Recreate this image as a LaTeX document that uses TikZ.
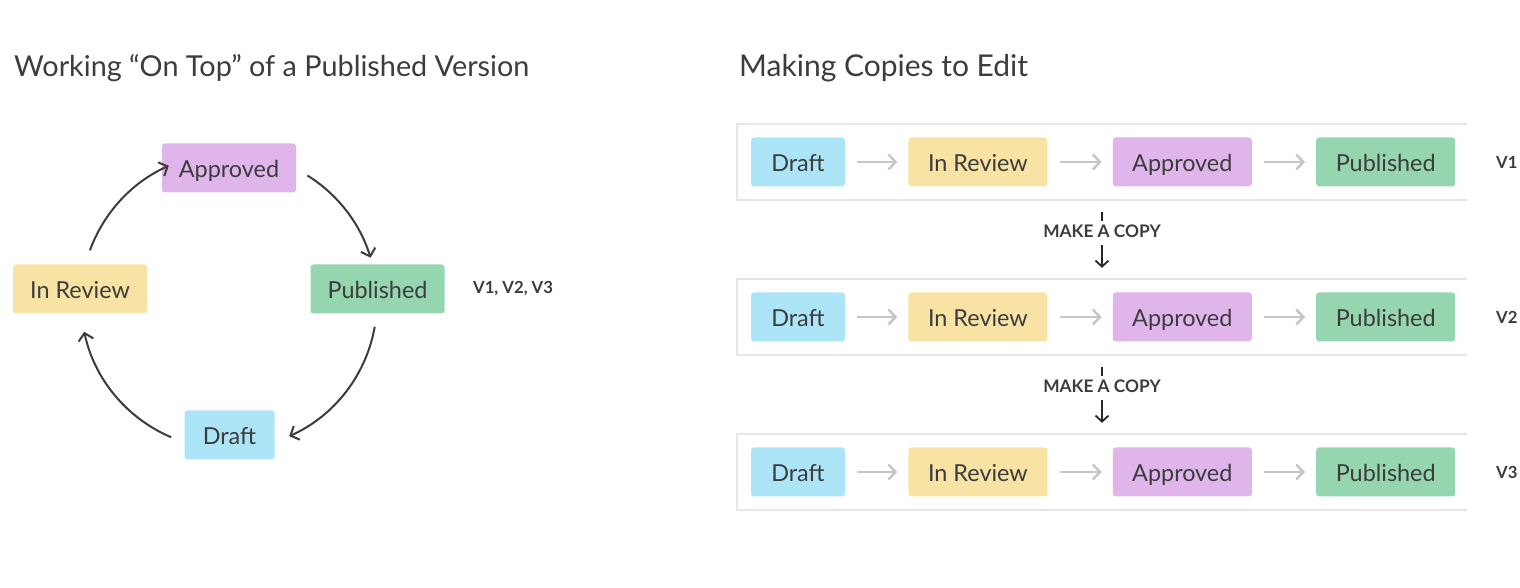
\documentclass[tikz,border=0pt]{standalone}
\usepackage{fontspec}
\setmainfont{Lato}
\usetikzlibrary{positioning,arrows.meta}

\definecolor{txt}{HTML}{3C3C3C}
\definecolor{cDra}{HTML}{ACE5F8}
\definecolor{cRev}{HTML}{F8E3A5}
\definecolor{cApp}{HTML}{DFB5EB}
\definecolor{cPub}{HTML}{95D6B0}
\definecolor{frmgray}{HTML}{E6E6E6}
\definecolor{flwgray}{HTML}{C6C6C6}

\begin{document}
\begin{tikzpicture}[
  x=1pt, y=1pt,
  ttl/.style={font=\fontsize{#1}{33}\selectfont, text=txt, inner sep=0pt, anchor=base west},
  ttl/.default=28.8,
  st/.style={rounded corners=3pt, minimum height=49pt, inner sep=0pt, text=txt,
    text height=18.5pt, text depth=0pt, font=\fontsize{23.4}{27}\selectfont},
  ver/.style={font=\fontsize{16.7}{19}\bfseries\selectfont, text=txt, anchor=west, inner sep=0pt},
  cyc/.style={-{Straight Barb[length=7pt, width=15pt]}, line width=2pt, txt},
  flw/.style={-{Straight Barb[length=7pt, width=15pt]}, line width=2.5pt, flwgray,
    shorten <=12pt, shorten >=11pt},
  frm/.style={minimum width=730pt, minimum height=76pt, inner sep=0pt},
  frmline/.style={line width=2pt, frmgray},
  cpy/.style={-{Straight Barb[length=6pt, width=13pt]}, line width=1.8pt, black!85,
    shorten <=12pt, shorten >=11pt},
  cpytxt/.style={font=\fontsize{17.3}{19}\bfseries\selectfont, text=txt, fill=white,
    inner sep=4pt, text height=12.5pt, text depth=4pt}
]
\useasboundingbox (0,0) rectangle (1520,588);

%% ===== Working on top =====
\node[ttl] (ttlA) at (14,511) {Working “On Top” of a Published Version};

\node[st, fill=cApp, minimum width=134pt] (app) at (229,420) {Approved};
\node[st, fill=cRev, minimum width=134pt] (rev) at (80,299) {In Review};
\node[st, fill=cPub, minimum width=134pt] (pub) at (377.5,299) {Published};
\node[st, fill=cDra, minimum width=90pt] (dra) at (229.5,153) {Draft};
\node[ver] (verA) at (473,299) {V1, V2, V3};

\coordinate (ctr) at (229,287);
\draw[cyc] ([shift={(160:148)}]ctr) arc[start angle=160, end angle=114, radius=148];
\draw[cyc] ([shift={(58:148)}]ctr) arc[start angle=58, end angle=17, radius=148];
\draw[cyc] ([shift={(-10:148)}]ctr) arc[start angle=-10, end angle=-66, radius=148];
\draw[cyc] ([shift={(-113:148)}]ctr) arc[start angle=-113, end angle=-168, radius=148];

%% ===== Making copies =====
\node[ttl=30] (ttlB) at (739,511) {Making Copies to Edit};

% V1
\node[frm] (r1) at (1102,426) {};
\draw[frmline] (r1.north east) -- (r1.north west) -- (r1.south west) -- (r1.south east);
\node[st, fill=cDra, minimum width=94pt] (d1) at (798,426) {Draft};
\node[st, fill=cRev, minimum width=139pt, right=63pt of d1] (i1) {In Review};
\node[st, fill=cApp, minimum width=139pt, right=65pt of i1] (a1) {Approved};
\node[st, fill=cPub, minimum width=139pt, right=64pt of a1] (p1) {Published};
\node[ver] (v1) at (1496,426) {V1};
\draw[flw] (d1) -- (i1);
\draw[flw] (i1) -- (a1);
\draw[flw] (a1) -- (p1);

% V2
\node[frm] (r2) at (1102,271) {};
\draw[frmline] (r2.north east) -- (r2.north west) -- (r2.south west) -- (r2.south east);
\node[st, fill=cDra, minimum width=94pt] (d2) at (798,271) {Draft};
\node[st, fill=cRev, minimum width=139pt, right=63pt of d2] (i2) {In Review};
\node[st, fill=cApp, minimum width=139pt, right=65pt of i2] (a2) {Approved};
\node[st, fill=cPub, minimum width=139pt, right=64pt of a2] (p2) {Published};
\node[ver] (v2) at (1496,271) {V2};
\draw[flw] (d2) -- (i2);
\draw[flw] (i2) -- (a2);
\draw[flw] (a2) -- (p2);

% V3
\node[frm] (r3) at (1102,116) {};
\draw[frmline] (r3.north east) -- (r3.north west) -- (r3.south west) -- (r3.south east);
\node[st, fill=cDra, minimum width=94pt] (d3) at (798,116) {Draft};
\node[st, fill=cRev, minimum width=139pt, right=63pt of d3] (i3) {In Review};
\node[st, fill=cApp, minimum width=139pt, right=65pt of i3] (a3) {Approved};
\node[st, fill=cPub, minimum width=139pt, right=64pt of a3] (p3) {Published};
\node[ver] (v3) at (1496,116) {V3};
\draw[flw] (d3) -- (i3);
\draw[flw] (i3) -- (a3);
\draw[flw] (a3) -- (p3);

% copy steps
\draw[cpy] (r1.south) -- (r2.north) node[cpytxt, pos=0.42] (cp1) {MAKE A COPY};
\draw[cpy] (r2.south) -- (r3.north) node[cpytxt, pos=0.42] (cp2) {MAKE A COPY};
\end{tikzpicture}
\end{document}
